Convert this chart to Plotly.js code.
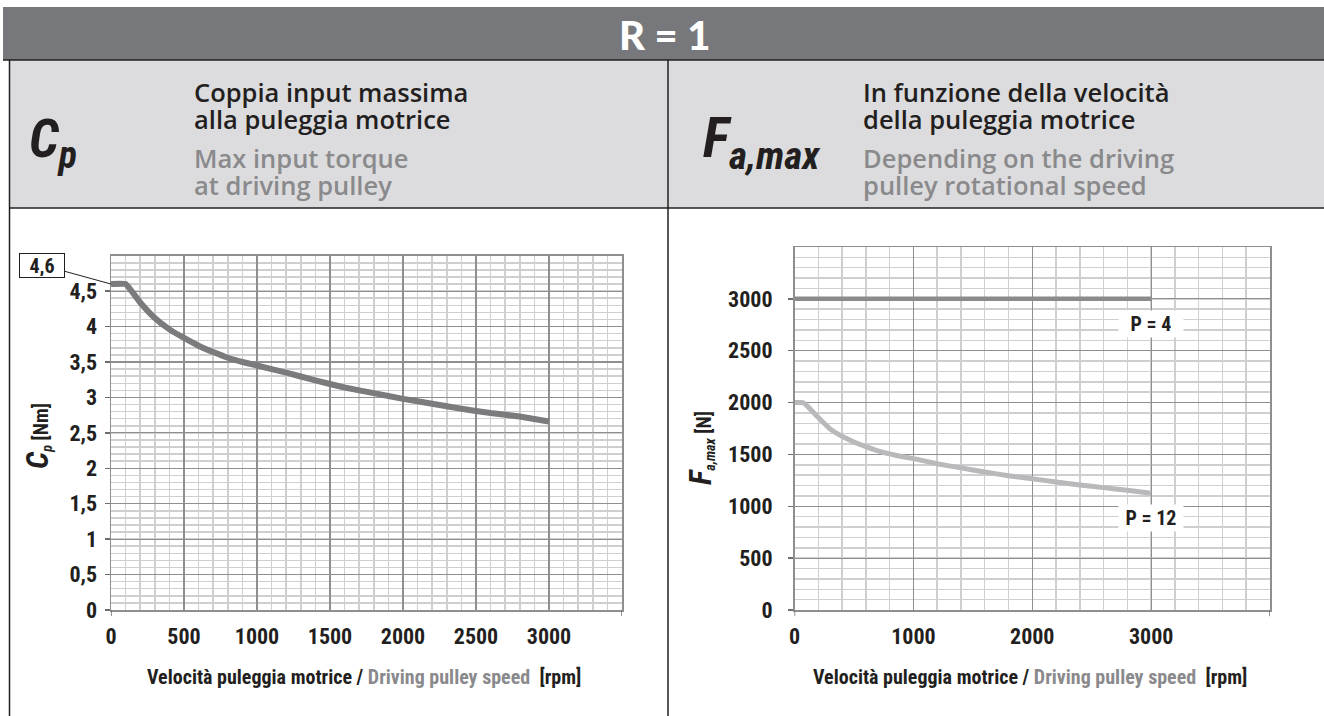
<!DOCTYPE html>
<html>
<head>
<meta charset="utf-8">
<script src="https://cdn.plot.ly/plotly-3.0.1.min.js"></script>
<style>html,body{margin:0;padding:0;background:#fff;}#chart{width:1324px;height:716px;}</style>
</head>
<body>
<div id="chart"></div>
<script>
// ---- data ----
const cpSpeed  = [0,100,200,300,400,500,600,700,800,900,1000,1200,1400,1600,1800,2000,2200,2400,2600,2800,3000];
const cpTorque = [4.6,4.6,4.34,4.12,3.96,3.84,3.73,3.64,3.56,3.5,3.45,3.35,3.24,3.14,3.06,2.98,2.91,2.84,2.78,2.73,2.66];

const p4Speed = [0,3000];
const p4Force = [3000,3000];

const p12Speed = [0,70,100,200,300,400,500,600,700,800,900,1000,1200,1400,1600,1800,2000,2200,2400,2600,2800,3000];
const p12Force = [2000,2000,1975,1855,1745,1675,1620,1575,1535,1505,1480,1460,1410,1370,1330,1295,1265,1235,1205,1180,1155,1125];

const cpTickVals = [0,0.5,1,1.5,2,2.5,3,3.5,4,4.5];
const cpXTickVals = [0,500,1000,1500,2000,2500,3000];
const faTickVals = [0,500,1000,1500,2000,2500,3000];
const faXTickVals = [0,1000,2000,3000];

const seriesLabels = ['P = 4','P = 12'];
const peakLabel = '4,6';

// ---- helpers for page geometry ----
const W = 1324, H = 716;
const px = x => x / W;
const py = y => 1 - y / H;

const CF = '"Liberation Sans Narrow", "Roboto Condensed", "Liberation Sans", Arial, sans-serif';
const HF = '"Open Sans", "Noto Sans", sans-serif';
const DARK = '#231f20';
const GREYTXT = '#8a8a8c';

const majorGrid = '#8f8f91';
const minorGrid = '#cfcfd2';

function axisBase(extra) {
  return Object.assign({
    showgrid: true, gridcolor: majorGrid, gridwidth: 1.2,
    showline: true, linecolor: '#8f8f91', linewidth: 1.5, mirror: true,
    zeroline: false, tickmode: 'array',
    tickfont: {family: CF, size: 22, color: DARK, weight: 'bold'},
    fixedrange: true
  }, extra);
}

const traces = [
  {x: cpSpeed, y: cpTorque, xaxis: 'x', yaxis: 'y', mode: 'lines',
   line: {color: '#7b7b7d', width: 6, shape: 'spline', smoothing: 0.3}, hoverinfo: 'skip'},
  {x: p4Speed, y: p4Force, xaxis: 'x2', yaxis: 'y2', mode: 'lines',
   line: {color: '#8b8b8d', width: 4.5}, hoverinfo: 'skip'},
  {x: p12Speed, y: p12Force, xaxis: 'x2', yaxis: 'y2', mode: 'lines',
   line: {color: '#b9b9bc', width: 5, shape: 'spline', smoothing: 0.3}, hoverinfo: 'skip'}
];

const xTitle = '<b>Velocità puleggia motrice / </b><b><span style="color:#8a8a8c">Driving pulley speed</span></b><b>  [rpm]</b>';

const layout = {
  width: W, height: H,
  margin: {l: 0, r: 0, t: 0, b: 0},
  paper_bgcolor: '#ffffff', plot_bgcolor: '#ffffff',
  showlegend: false,
  separators: ',.',
  xaxis: axisBase({
    domain: [px(111), px(622)], range: [0, 3500],
    tickvals: cpXTickVals, ticks: '', ticklabelstandoff: 6,
    minor: {dtick: 100, tick0: 0, showgrid: true, gridcolor: minorGrid, gridwidth: 1.5}
  }),
  yaxis: axisBase({
    domain: [py(610), py(255.7)], range: [0, 5],
    tickvals: cpTickVals, ticks: 'outside', ticklen: 5, tickcolor: '#6d6d6f', tickwidth: 1.5,
    ticklabelstandoff: 3,
    minor: {dtick: 0.1, tick0: 0, showgrid: true, gridcolor: minorGrid, gridwidth: 1.5}
  }),
  xaxis2: axisBase({
    domain: [px(794.5), px(1270)], range: [0, 4000], anchor: 'y2',
    tickvals: faXTickVals, ticks: '', ticklabelstandoff: 6,
    minor: {dtick: 200, tick0: 0, showgrid: true, gridcolor: minorGrid, gridwidth: 1.5}
  }),
  yaxis2: axisBase({
    domain: [py(610), py(247)], range: [0, 3500], anchor: 'x2',
    tickvals: faTickVals, ticks: 'outside', ticklen: 5, tickcolor: '#6d6d6f', tickwidth: 1.5,
    ticklabelstandoff: 11,
    minor: {dtick: 100, tick0: 0, showgrid: true, gridcolor: minorGrid, gridwidth: 1.5}
  }),
  shapes: [
    // header bands
    {type: 'rect', xref: 'paper', yref: 'paper', x0: px(3), x1: px(1324), y0: py(60), y1: py(7),
     fillcolor: '#77787b', line: {width: 0}},
    {type: 'rect', xref: 'paper', yref: 'paper', x0: px(9), x1: px(1324), y0: py(208), y1: py(60),
     fillcolor: '#dcdcde', line: {width: 0}},
    {type: 'line', xref: 'paper', yref: 'paper', x0: px(3), x1: px(1324), y0: py(60), y1: py(60),
     line: {color: '#231f20', width: 1.5}},
    {type: 'line', xref: 'paper', yref: 'paper', x0: px(9), x1: px(1324), y0: py(208), y1: py(208),
     line: {color: '#231f20', width: 1.5}},
    {type: 'line', xref: 'paper', yref: 'paper', x0: px(668), x1: px(668), y0: py(60), y1: py(716),
     line: {color: '#231f20', width: 1.5}},
    {type: 'line', xref: 'paper', yref: 'paper', x0: px(9.5), x1: px(9.5), y0: py(60), y1: py(716),
     line: {color: '#231f20', width: 1.5}},
    // x-axis end ticks
    {type: 'line', xref: 'x', yref: 'y domain', x0: 0, x1: 0, y0: 0, y1: -0.017, line: {color: '#6d6d6f', width: 1.5}},
    {type: 'line', xref: 'x', yref: 'y domain', x0: 3500, x1: 3500, y0: 0, y1: -0.017, line: {color: '#6d6d6f', width: 1.5}},
    {type: 'line', xref: 'x2', yref: 'y2 domain', x0: 0, x1: 0, y0: 0, y1: -0.017, line: {color: '#6d6d6f', width: 1.5}},
    {type: 'line', xref: 'x2', yref: 'y2 domain', x0: 4000, x1: 4000, y0: 0, y1: -0.017, line: {color: '#6d6d6f', width: 1.5}}
  ],
  annotations: [
    // main title
    {xref: 'paper', yref: 'paper', x: px(665), y: py(35), xanchor: 'center', yanchor: 'middle',
     text: 'R = 1', showarrow: false,
     font: {family: 'Lato, "Open Sans", sans-serif', size: 40, color: '#ffffff', weight: 900}},
    // left header
    {xref: 'paper', yref: 'paper', x: px(27), y: py(142), xanchor: 'left', yanchor: 'middle',
     text: '<i><b>C</b></i><sub><i><b>p</b></i></sub>', showarrow: false,
     font: {family: CF, size: 54, color: DARK}},
    {xref: 'paper', yref: 'paper', x: px(192), y: py(92), xanchor: 'left', yanchor: 'middle',
     text: 'Coppia input massima', showarrow: false, font: {family: HF, size: 25.5, color: DARK, weight: 600}},
    {xref: 'paper', yref: 'paper', x: px(192), y: py(119), xanchor: 'left', yanchor: 'middle',
     text: 'alla puleggia motrice', showarrow: false, font: {family: HF, size: 25.5, color: DARK, weight: 600}},
    {xref: 'paper', yref: 'paper', x: px(192), y: py(158), xanchor: 'left', yanchor: 'middle',
     text: 'Max input torque', showarrow: false, font: {family: HF, size: 25.5, color: GREYTXT, weight: 600}},
    {xref: 'paper', yref: 'paper', x: px(192), y: py(185), xanchor: 'left', yanchor: 'middle',
     text: 'at driving pulley', showarrow: false, font: {family: HF, size: 25.5, color: GREYTXT, weight: 600}},
    // right header
    {xref: 'paper', yref: 'paper', x: px(701), y: py(142), xanchor: 'left', yanchor: 'middle',
     text: '<i><b>F</b></i><sub><i><b>a,max</b></i></sub>', showarrow: false,
     font: {family: CF, size: 56, color: DARK}},
    {xref: 'paper', yref: 'paper', x: px(861), y: py(92), xanchor: 'left', yanchor: 'middle',
     text: 'In funzione della velocità', showarrow: false, font: {family: HF, size: 25.5, color: DARK, weight: 600}},
    {xref: 'paper', yref: 'paper', x: px(861), y: py(119), xanchor: 'left', yanchor: 'middle',
     text: 'della puleggia motrice', showarrow: false, font: {family: HF, size: 25.5, color: DARK, weight: 600}},
    {xref: 'paper', yref: 'paper', x: px(861), y: py(158), xanchor: 'left', yanchor: 'middle',
     text: 'Depending on the driving', showarrow: false, font: {family: HF, size: 25.5, color: GREYTXT, weight: 600}},
    {xref: 'paper', yref: 'paper', x: px(861), y: py(185), xanchor: 'left', yanchor: 'middle',
     text: 'pulley rotational speed', showarrow: false, font: {family: HF, size: 25.5, color: GREYTXT, weight: 600}},
    // axis titles
    {xref: 'paper', yref: 'paper', x: px(37), y: py(436), xanchor: 'center', yanchor: 'middle', textangle: -90,
     text: '<i><b><span style="font-size:31px">C</span></b></i><sub><i><b>p</b></i></sub><b> [Nm]</b>', showarrow: false,
     font: {family: CF, size: 20, color: DARK}},
    {xref: 'paper', yref: 'paper', x: px(700), y: py(448), xanchor: 'center', yanchor: 'middle', textangle: -90,
     text: '<i><b><span style="font-size:31px">F</span></b></i><sub><i><b>a,max</b></i></sub><b> [N]</b>', showarrow: false,
     font: {family: CF, size: 20, color: DARK}},
    {xref: 'paper', yref: 'paper', x: px(364), y: py(677), xanchor: 'center', yanchor: 'middle',
     text: xTitle, showarrow: false, font: {family: CF, size: 20, color: DARK}},
    {xref: 'paper', yref: 'paper', x: px(1030), y: py(677), xanchor: 'center', yanchor: 'middle',
     text: xTitle, showarrow: false, font: {family: CF, size: 20, color: DARK}},
    // peak value callout
    {xref: 'x', yref: 'y', x: cpSpeed[0], y: cpTorque[0], text: '<b>' + peakLabel + '</b>',
     showarrow: true, arrowhead: 0, arrowwidth: 1, arrowcolor: DARK, ax: -69, ay: -19,
     width: 42, height: 21, borderpad: 1,
     bgcolor: '#ffffff', bordercolor: DARK, borderwidth: 1,
     font: {family: CF, size: 20, color: DARK}},
    // series labels
    {xref: 'x2', yref: 'y2', x: p4Speed[p4Speed.length - 1], y: p4Force[p4Force.length - 1], yshift: -25,
     text: '<b>' + seriesLabels[0] + '</b>', showarrow: false, bgcolor: '#ffffff', borderpad: 1, width: 62,
     font: {family: CF, size: 20, color: DARK}},
    {xref: 'x2', yref: 'y2', x: p12Speed[p12Speed.length - 1], y: p12Force[p12Force.length - 1], yshift: -25,
     text: '<b>' + seriesLabels[1] + '</b>', showarrow: false, bgcolor: '#ffffff', borderpad: 1, width: 62,
     font: {family: CF, size: 20, color: DARK}}
  ]
};

Plotly.newPlot('chart', traces, layout, {staticPlot: true, displayModeBar: false});
</script>
</body>
</html>
